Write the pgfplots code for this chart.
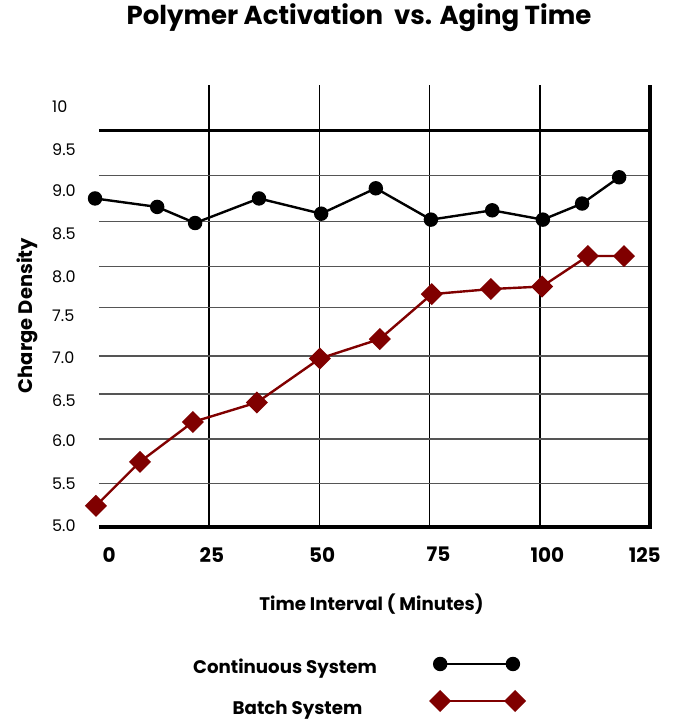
\documentclass[border=0pt]{standalone}
\usepackage{fontspec}
\setmainfont{Poppins}
\usepackage{pgfplots}
\pgfplotsset{compat=1.18}
\definecolor{batch}{RGB}{128,0,0}
\definecolor{hgrid}{RGB}{85,85,85}

\begin{document}
\begin{tikzpicture}
\path[use as bounding box] (-99pt,-192pt) rectangle (577pt,527pt);
\begin{axis}[
    at={(0pt,0pt)}, anchor=south west,
    scale only axis, width=551pt, height=442pt,
    xmin=0, xmax=125, ymin=5, ymax=10.22,
    axis line style={draw=none},
    clip=false,
    major tick length=0pt,
    /pgf/number format/assume math mode=true,
    xtick={2.3,25.6,50.6,77.0,101.7,123.8},
    xticklabels={0,25,50,75,100,125},
    xticklabel style={anchor=north, inner sep=0pt, yshift=-20pt,
        font=\fontsize{20}{20}\selectfont\bfseries},
    ytick={5.01,5.51,6.02,6.49,7.00,7.49,7.96,8.46,8.97,9.46,9.97},
    yticklabels={5.0,5.5,6.0,6.5,7.0,7.5,8.0,8.5,9.0,9.5,10},
    yticklabel style={anchor=west, inner sep=0pt, xshift=-47pt,
        font=\fontsize{16}{16}\selectfont},
    extra x ticks={25,50,75,100},
    extra x tick labels={},
    extra x tick style={grid=major, major grid style={black, line width=1.7pt}},
    extra y ticks={5.51,6.04,6.57,7.02,7.59,8.08,8.61,9.15},
    extra y tick labels={},
    extra y tick style={grid=major, major grid style={hgrid, line width=1.3pt}},
]
% frame lines
\addplot[black, line width=2.8pt, forget plot] coordinates {(0,9.68) (125,9.68)};
\addplot[black, line width=4pt, line join=miter, forget plot] coordinates {(0,5) (125,5) (125,10.22)};

% Continuous System
\addplot[black, line width=2.4pt, mark=*, mark size=6pt] coordinates {
(-0.9,8.88) (13.2,8.78) (21.8,8.59) (36.3,8.88) (50.4,8.70) (62.8,9.00)
(75.3,8.63) (89.2,8.74) (100.7,8.63) (109.6,8.82) (118.0,9.13)
};
% Batch System
\addplot[batch, line width=2.4pt, mark=square*, mark size=6.6pt,
    mark options={rotate=45}] coordinates {
(-0.7,5.25) (9.3,5.77) (21.3,6.24) (35.8,6.47) (50.1,6.99) (63.7,7.22)
(75.5,7.75) (88.9,7.81) (100.5,7.84) (110.9,8.20) (119.1,8.20)
};

% legend samples
\addplot[black, line width=2.4pt, mark=*, mark size=6pt] coordinates {(77.4,3.382) (93.9,3.382)};
\addplot[batch, line width=2.4pt, mark=square*, mark size=6.6pt,
    mark options={rotate=45}] coordinates {(77.4,2.945) (94.4,2.945)};
\end{axis}

\node[anchor=base, inner sep=0pt, font=\fontsize{26}{26}\selectfont\bfseries]
    at (260pt,502pt) {Polymer Activation~ vs. Aging Time};
\node[anchor=base, inner sep=0pt, font=\fontsize{18.2}{18.2}\selectfont\bfseries]
    at (272.5pt,-84pt) {Time Interval ( Minutes)};
\node[anchor=base, rotate=90, inner sep=0pt, font=\fontsize{19.5}{19.5}\selectfont\bfseries]
    at (-66pt,211.5pt) {Charge Density};
\node[anchor=base, inner sep=0pt, font=\fontsize{18.2}{18.2}\selectfont\bfseries]
    at (186pt,-146pt) {Continuous System};
\node[anchor=base, inner sep=0pt, font=\fontsize{18.2}{18.2}\selectfont\bfseries]
    at (198.5pt,-187pt) {Batch System};
\end{tikzpicture}
\end{document}
